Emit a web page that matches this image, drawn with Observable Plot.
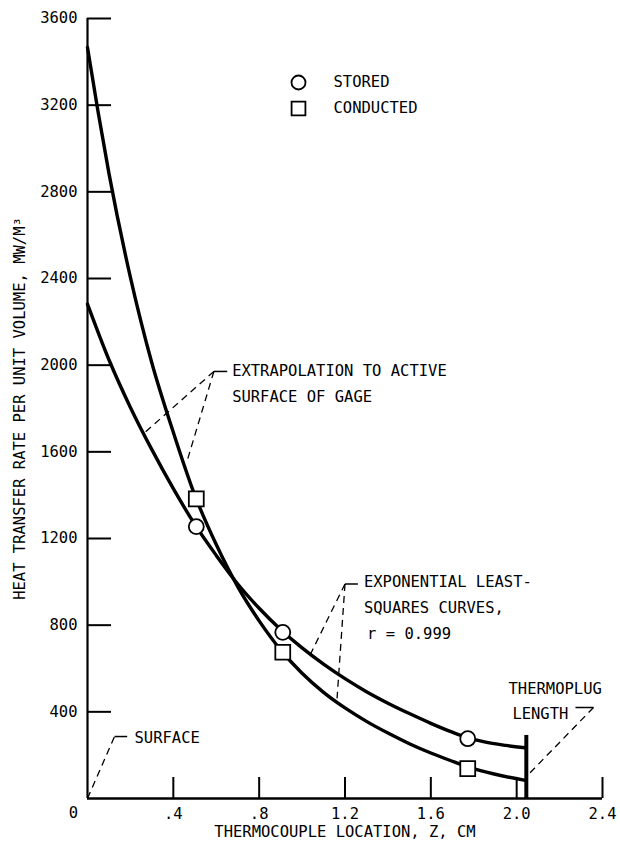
<!DOCTYPE html>
<html><head><meta charset="utf-8">
<script src="https://cdn.jsdelivr.net/npm/d3@7"></script>
<script src="https://cdn.jsdelivr.net/npm/@observablehq/plot@0.6"></script>
<style>body{margin:0;background:#fff}</style>
</head><body><div id="chart"></div>
<script>
// ---- data ----
const storedZ = [0, 0.1, 0.2, 0.3, 0.4, 0.5, 0.6, 0.7, 0.8, 0.9, 1.0, 1.1, 1.2, 1.3, 1.4, 1.5, 1.6, 1.7, 1.77, 1.85, 1.95, 2.04];
const storedQ = [2282, 2025, 1805, 1610, 1430, 1265, 1122, 990, 878, 780, 695, 620, 553, 493, 440, 392, 347, 306, 281, 261, 245, 234];
const conductedZ = [0, 0.05, 0.1, 0.2, 0.3, 0.4, 0.5, 0.6, 0.7, 0.8, 0.9, 1.0, 1.1, 1.2, 1.3, 1.4, 1.5, 1.6, 1.7, 1.777, 1.9, 2.04];
const conductedQ = [3466, 3165, 2885, 2405, 2010, 1690, 1400, 1172, 978, 820, 686, 578, 490, 418, 356, 302, 253, 210, 172, 145, 112, 84];
const gageZ = [0.507, 0.91, 1.772];
const storedPts = [1255, 767, 276];
const conductedPts = [1383, 675, 138];
const thermoplugZ = 2.045;
const thermoplugTop = 291;

const xTicks = [0.4, 0.8, 1.2, 1.6, 2.0, 2.4];
const xTickLabels = [".4", ".8", "1.2", "1.6", "2.0", "2.4"];
const xZeroLabel = "0";
const yTicks = [400, 800, 1200, 1600, 2000, 2400, 2800, 3200, 3600];

const legendLabels = ["STORED", "CONDUCTED"];
const xTitle = "THERMOCOUPLE LOCATION, Z, CM";
const yTitle = "HEAT TRANSFER RATE PER UNIT VOLUME, MW/M³";

// annotation texts and anchor positions (data units)
const noteText = ["EXTRAPOLATION TO ACTIVE", "SURFACE OF GAGE", "EXPONENTIAL LEAST-", "SQUARES CURVES,", "r = 0.999", "SURFACE", "THERMOPLUG", "LENGTH"];
const noteZ = [0.674, 0.674, 1.288, 1.288, 1.303, 0.219, 1.962, 1.980];
const noteQ = [1971, 1851, 998, 877, 761, 281, 507, 392];

// dashed leader lines
const dashZ1 = [0.589, 0.589, 1.20, 1.20, 0, 2.358];
const dashQ1 = [1971, 1971, 990, 990, 0, 420];
const dashZ2 = [0.261, 0.465, 1.04, 1.163, 0.126, 2.05];
const dashQ2 = [1684, 1560, 668, 462, 286, 106];
// solid short leader ticks
const solidZ1 = [0.589, 1.20, 0.126, 2.274];
const solidQ1 = [1971, 990, 286, 420];
const solidZ2 = [0.651, 1.26, 0.185, 2.358];
const solidQ2 = [1971, 990, 286, 420];

// ---- build tables ----
const stored = storedZ.map((z, i) => ({z, q: storedQ[i]}));
const conducted = conductedZ.map((z, i) => ({z, q: conductedQ[i]}));
const storedP = gageZ.map((z, i) => ({z, q: storedPts[i]}));
const conductedP = gageZ.map((z, i) => ({z, q: conductedPts[i]}));
const notes = noteText.map((t, i) => ({t, z: noteZ[i], q: noteQ[i]}));
const dashes = dashZ1.map((z, i) => ({z1: z, q1: dashQ1[i], z2: dashZ2[i], q2: dashQ2[i]}));
const solids = solidZ1.map((z, i) => ({z1: z, q1: solidQ1[i], z2: solidZ2[i], q2: solidQ2[i]}));
const xLabelMap = new Map(xTicks.map((t, i) => [t, xTickLabels[i]]));

const FONT = "'DejaVu Sans Mono', monospace";
const FS = 15.5;

const chart = Plot.plot({
  width: 620, height: 845,
  marginLeft: 87, marginRight: 18, marginTop: 18, marginBottom: 47,
  style: {fontFamily: FONT, fontSize: FS + "px", background: "#fff", color: "#000", overflow: "visible"},
  x: {domain: [0, 2.4]},
  y: {domain: [0, 3600]},
  marks: [
    // axes
    Plot.ruleX([0], {y1: 0, y2: 3600, strokeWidth: 2.2}),
    Plot.ruleY([0], {strokeWidth: 2.5}),
    Plot.axisY({ticks: yTicks, tickSize: -24, tickPadding: 34, strokeWidth: 2, tickFormat: d => String(d), label: null, fontSize: FS}),
    Plot.axisX({ticks: xTicks, tickSize: -21, tickPadding: 30.4, strokeWidth: 2, tickFormat: d => xLabelMap.get(d), label: null, fontSize: FS}),
    Plot.text([xZeroLabel], {frameAnchor: "bottom-left", text: d => d, dx: -14, dy: 15, textAnchor: "middle", lineAnchor: "middle", fontSize: FS}),
    Plot.text([xTitle], {frameAnchor: "bottom", text: d => d, dy: 34, textAnchor: "middle", lineAnchor: "middle", fontSize: FS}),
    Plot.text([yTitle], {frameAnchor: "left", text: d => d, dx: -67, rotate: -90, textAnchor: "middle", lineAnchor: "middle", fontSize: FS}),
    // thermoplug length
    Plot.ruleX([thermoplugZ], {y1: 0, y2: thermoplugTop, strokeWidth: 4}),
    // leaders
    Plot.link(dashes, {x1: "z1", y1: "q1", x2: "z2", y2: "q2", strokeWidth: 1.3, strokeDasharray: "7,5"}),
    Plot.link(solids, {x1: "z1", y1: "q1", x2: "z2", y2: "q2", strokeWidth: 1.5}),
    // curves
    Plot.line(stored, {x: "z", y: "q", curve: "monotone-x", strokeWidth: 3.4}),
    Plot.line(conducted, {x: "z", y: "q", curve: "monotone-x", strokeWidth: 3.4}),
    // measured points
    Plot.dot(storedP, {x: "z", y: "q", r: 7.5, fill: "#fff", stroke: "#000", strokeWidth: 1.8}),
    Plot.dot(conductedP, {x: "z", y: "q", r: 8.4, symbol: "square", fill: "#fff", stroke: "#000", strokeWidth: 1.8}),
    // annotations
    Plot.text(notes, {x: "z", y: "q", text: "t", textAnchor: "start", lineAnchor: "middle", fontSize: FS}),
    // legend (inside frame)
    Plot.dot([legendLabels[0]], {frameAnchor: "top-left", dx: 211, dy: 64, r: 7, fill: "#fff", stroke: "#000", strokeWidth: 1.8}),
    Plot.dot([legendLabels[1]], {frameAnchor: "top-left", dx: 211, dy: 90, r: 7.8, symbol: "square", fill: "#fff", stroke: "#000", strokeWidth: 1.8}),
    Plot.text([legendLabels[0]], {frameAnchor: "top-left", text: d => d, dx: 246, dy: 64, textAnchor: "start", lineAnchor: "middle", fontSize: FS}),
    Plot.text([legendLabels[1]], {frameAnchor: "top-left", text: d => d, dx: 246, dy: 90, textAnchor: "start", lineAnchor: "middle", fontSize: FS})
  ]
});
document.getElementById("chart").appendChild(chart);
</script>
</body></html>
